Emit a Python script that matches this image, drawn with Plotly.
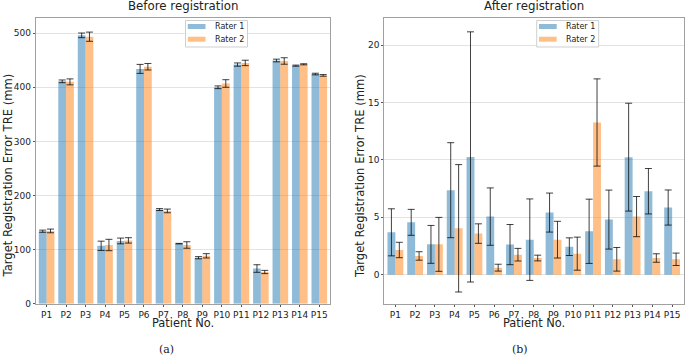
import plotly.graph_objects as go

patients = [f"P{i}" for i in range(1, 16)]

before_r1 = [134, 411, 496, 107, 116, 434, 174, 111, 85, 400, 442, 65, 449.5, 440, 424.5]
before_r1_err = [2, 2.5, 4.3, 8.6, 5.3, 8.3, 1.8, 0.5, 2, 2.5, 3, 7, 2.5, 1, 1.5]
before_r2 = [134.5, 410, 493.5, 108.5, 117, 438, 171.5, 108.5, 88.5, 407, 445, 58.6, 448.6, 442.5, 422]
before_r2_err = [3.4, 5.5, 8.5, 10.5, 5, 6, 3.4, 6, 4, 7, 5, 3, 6, 1, 1.5]

after_r1 = [3.69, 4.56, 2.64, 7.36, 10.26, 5.06, 2.62, 3.05, 5.41, 2.44, 3.78, 4.8, 10.24, 7.27, 5.85]
after_r1_err = [2.05, 1.13, 1.65, 4.14, 10.9, 2.5, 1.75, 3.55, 1.7, 0.77, 2.8, 2.57, 4.7, 1.98, 1.53]
after_r2 = [2.15, 1.63, 2.64, 4.04, 3.58, 0.61, 1.74, 1.45, 3.05, 1.83, 13.26, 1.34, 5.06, 1.45, 1.34]
after_r2_err = [0.67, 0.37, 2.35, 5.55, 0.85, 0.3, 0.55, 0.25, 1.6, 1.44, 3.8, 1.03, 1.75, 0.37, 0.54]

series_names = ["Rater 1", "Rater 2"]

BLUE = "rgba(31,119,180,0.5)"
ORANGE = "rgba(255,127,14,0.5)"
ERR = "rgba(0,0,0,0.75)"
FONT = "DejaVu Sans"
TXT = "#222"

W, H = 685, 356
def fx(px): return px / W
def fy(py): return 1 - py / H

fig = go.Figure()

def add(xaxis, yaxis, vals, errs, name, color, group):
    fig.add_trace(go.Bar(
        x=patients, y=vals, name=name, marker=dict(color=color, line=dict(width=0)),
        error_y=dict(type="data", array=errs, color=ERR, thickness=1, width=3.5),
        xaxis=xaxis, yaxis=yaxis, offsetgroup=group, showlegend=False,
    ))

add("x", "y", before_r1, before_r1_err, series_names[0], BLUE, "a")
add("x", "y", before_r2, before_r2_err, series_names[1], ORANGE, "b")
add("x2", "y2", after_r1, after_r1_err, series_names[0], BLUE, "a")
add("x2", "y2", after_r2, after_r2_err, series_names[1], ORANGE, "b")

ydom = [fy(303.7), fy(18.3)]
axis_common = dict(showline=True, linecolor="#a0a0a0", linewidth=1, mirror=True,
                   ticks="outside", ticklen=2, tickcolor="#555", tickwidth=1,
                   tickfont=dict(family=FONT, size=9, color=TXT), zeroline=False,
                   automargin=False, tickangle=0)

fig.update_layout(
    width=W, height=H, margin=dict(l=0, r=0, t=0, b=0, autoexpand=False),
    paper_bgcolor="white", plot_bgcolor="white",
    barmode="group", bargap=0.2, bargroupgap=0,
    font=dict(family=FONT, color=TXT),
    showlegend=False,
    xaxis=dict(domain=[fx(35.7), fx(330)], anchor="y", range=[-0.56, 14.55],
               showgrid=False, **axis_common),
    yaxis=dict(domain=ydom, anchor="x", range=[0, 527.5], tickvals=[0, 100, 200, 300, 400, 500],
               showgrid=True, gridcolor="#e3e3e3", **axis_common),
    xaxis2=dict(domain=[fx(384.3), fx(684)], anchor="y2", range=[-0.56, 14.6],
                showgrid=False, **axis_common),
    yaxis2=dict(domain=ydom, anchor="x2", range=[-2.53, 22.34], tickvals=[0, 5, 10, 15, 20],
                showgrid=True, gridcolor="#e3e3e3", **axis_common),
)

def ann(text, x, y, size, family=FONT, angle=0, xanchor="center"):
    fig.add_annotation(text=text, x=fx(x), y=fy(y), xref="paper", yref="paper",
                       showarrow=False, textangle=angle,
                       font=dict(family=family, size=size, color=TXT),
                       xanchor=xanchor, yanchor="middle")

def rect(x0, y0, x1, y1, fill, line_color=None):
    fig.add_shape(type="rect", xref="paper", yref="paper",
                  x0=fx(x0), x1=fx(x1), y0=fy(y1), y1=fy(y0),
                  fillcolor=fill, line=dict(color=line_color or "rgba(0,0,0,0)", width=1),
                  layer="above")

# legends drawn manually (matplotlib style)
for lx in (185.5, 536.7):
    rect(lx, 20.5, lx + 62, 47, "rgba(255,255,255,0.85)", "#cfcfcf")
    rect(lx + 2.3, 24, lx + 20, 29, BLUE)
    rect(lx + 2.3, 36.7, lx + 20, 41.7, ORANGE)
    ann(series_names[0], lx + 27, 26.5, 8, xanchor="left")
    ann(series_names[1], lx + 27, 39.3, 8, xanchor="left")

ann("Before registration", 183, 6.5, 11.8)
ann("After registration", 534, 6.5, 11.8)
ann("Patient No.", 183, 322.5, 11.4)
ann("Patient No.", 534, 322.5, 11.4)
ann("Target Registration Error TRE (mm)", 7.5, 176, 11.6, angle=-90)
ann("Target Registration Error TRE (mm)", 360, 176, 11.6, angle=-90)
ann("(a)", 166, 349, 11, family="DejaVu Serif")
ann("(b)", 520, 349, 11, family="DejaVu Serif")

fig.write_html(
    "out.html",
    config={"displayModeBar": False},
    post_script="document.body.style.margin='0';document.body.style.padding='0';"
                "document.body.style.overflow='hidden';",
)
